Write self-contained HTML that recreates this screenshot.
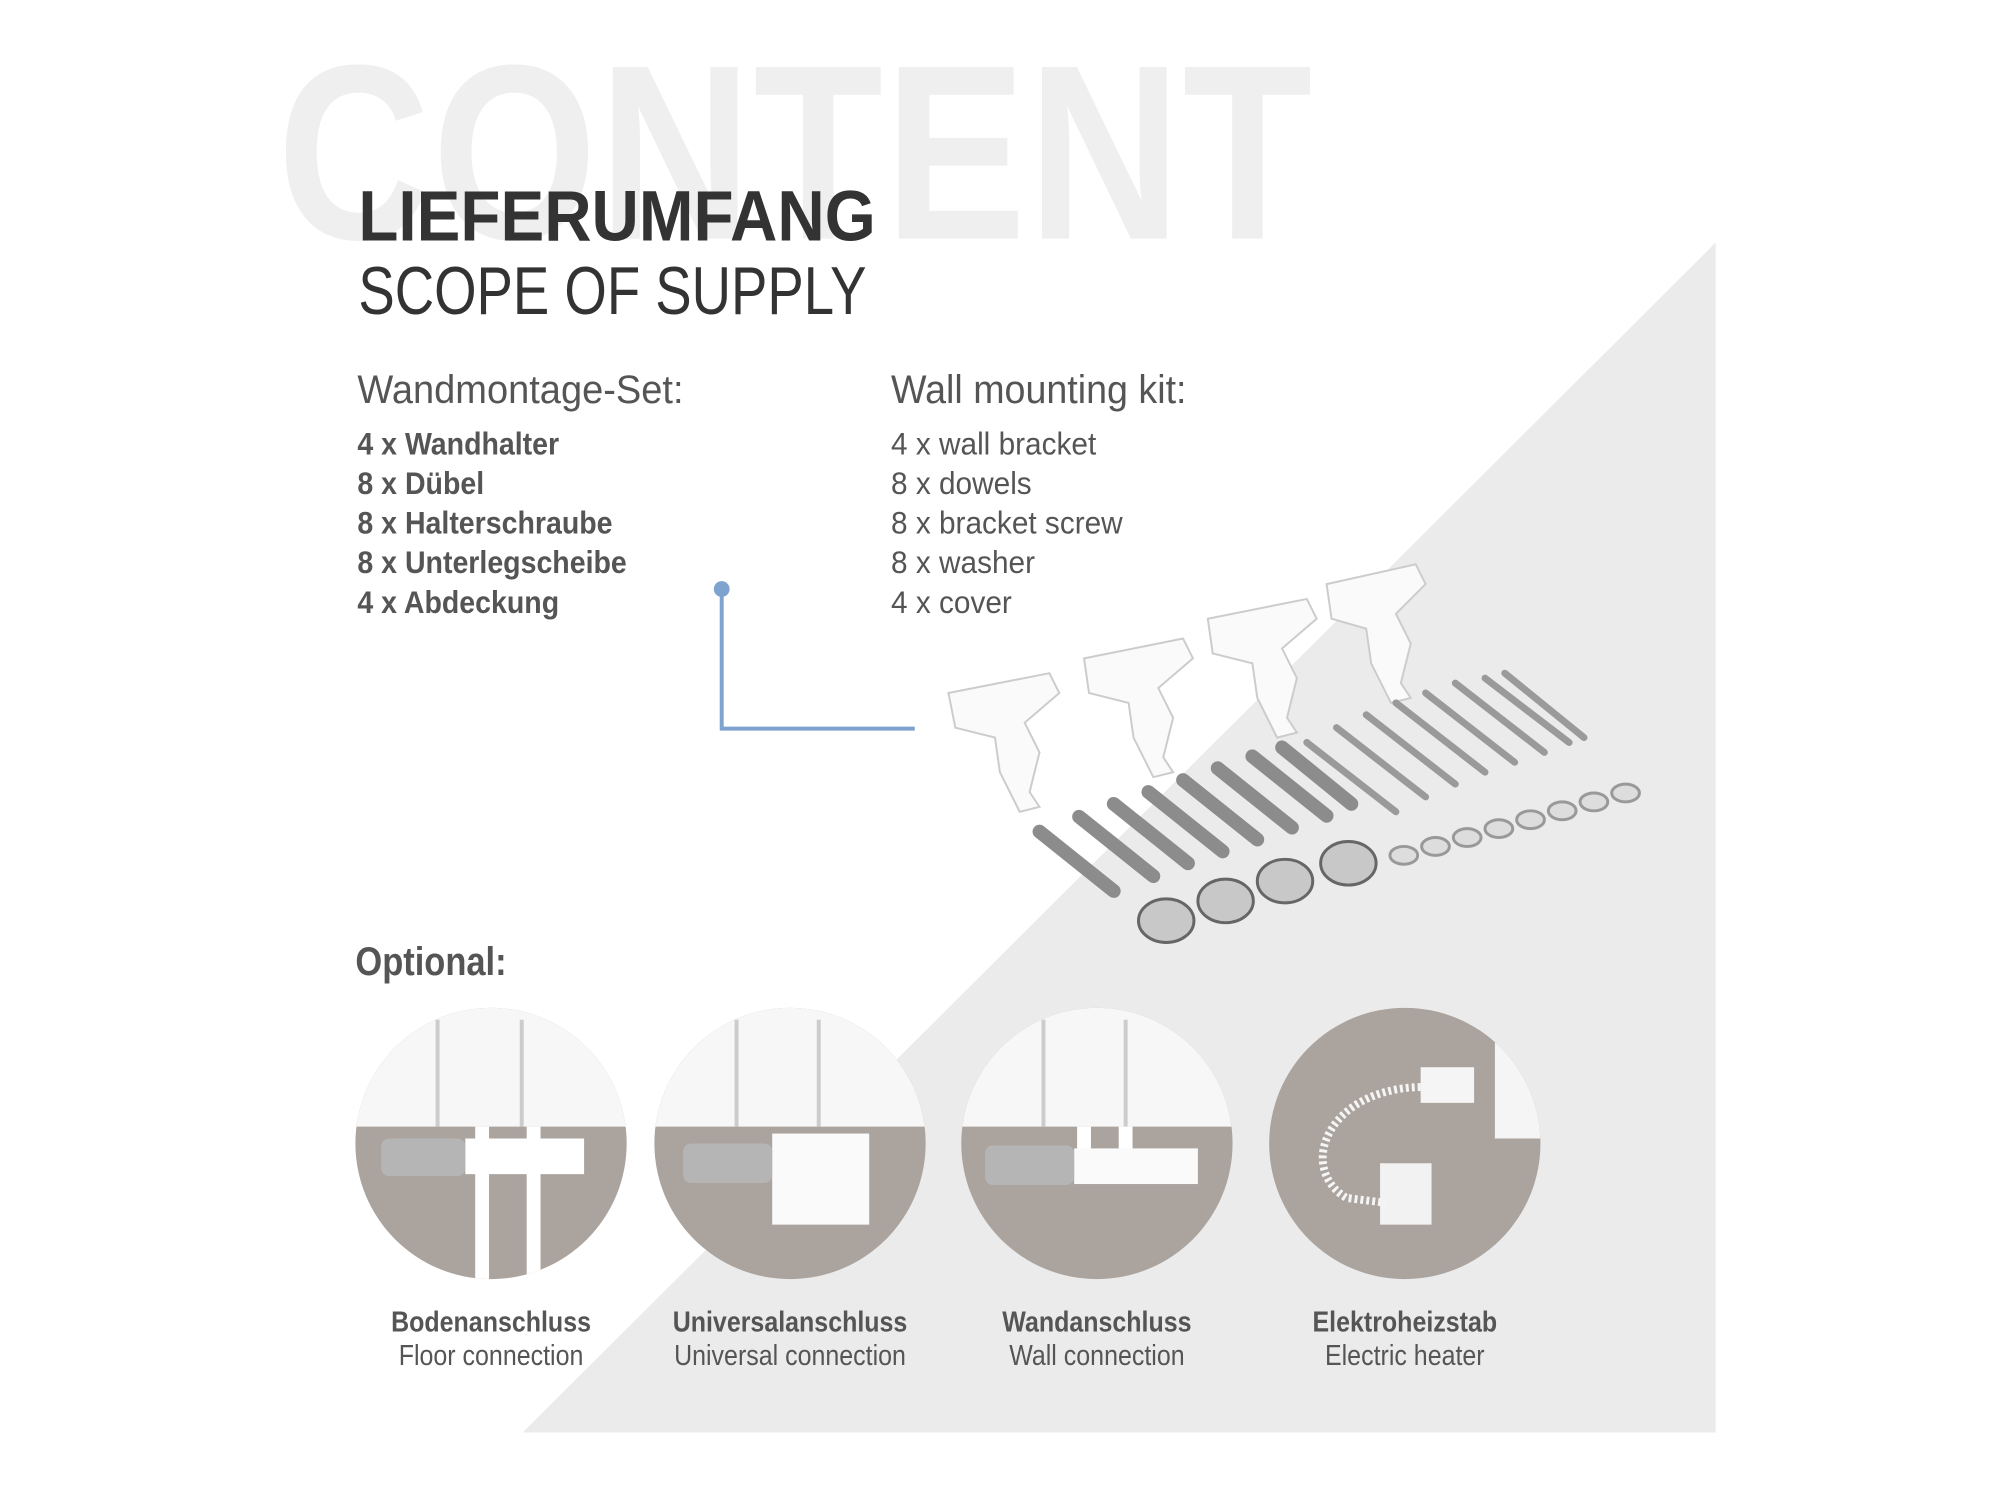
<!DOCTYPE html>
<html><head><meta charset="utf-8"><style>
html,body{margin:0;padding:0;background:#fff}
#o{position:relative;width:2000px;height:1500px;overflow:hidden;background:#fff}
#c{position:absolute;left:0;top:0;width:2000px;height:1500px;transform:scale(0.99);transform-origin:0 0;font-family:"Liberation Sans Narrow","Liberation Sans",sans-serif}
.t{position:absolute;white-space:nowrap;transform-origin:0 0}
.lb{position:absolute;width:300px;text-align:center;transform:scaleX(0.87);transform-origin:50% 0}
</style></head><body><div id="o"><div id="c">
<svg width="2000" height="1500" style="position:absolute;left:0;top:0">
<polygon points="1733,245 1733,1447 528,1447" fill="#ebebeb"/>
</svg>
<div class="t" style="left:280px;top:10px;font-size:252px;font-weight:bold;color:#efefef;transform:scaleX(0.85);letter-spacing:2px">CONTENT</div>
<div class="t" style="left:362px;top:178px;font-size:72px;font-weight:bold;color:#333;transform:scaleX(0.92)">LIEFERUMFANG</div>
<div class="t" style="left:362px;top:255px;font-size:68px;color:#333;transform:scaleX(0.81)">SCOPE OF SUPPLY</div>
<div class="t" style="left:361px;top:372px;font-size:40px;color:#555;transform:scaleX(0.96)">Wandmontage-Set:</div>
<div class="t" style="left:900px;top:372px;font-size:40px;color:#555;transform:scaleX(0.95)">Wall mounting kit:</div>
<div class="t" style="left:361px;top:428px;font-size:32px;line-height:40px;color:#555;font-weight:bold;transform:scaleX(0.90)">4 x Wandhalter<br>8 x Dübel<br>8 x Halterschraube<br>8 x Unterlegscheibe<br>4 x Abdeckung</div>
<div class="t" style="left:900px;top:428px;font-size:32px;line-height:40px;color:#555;transform:scaleX(0.94)">4 x wall bracket<br>8 x dowels<br>8 x bracket screw<br>8 x washer<br>4 x cover</div>
<svg width="2000" height="1500" style="position:absolute;left:0;top:0">
<circle cx="729" cy="595" r="8" fill="#7ea3cf"/>
<polyline points="729,595 729,736 924,736" fill="none" stroke="#7ea3cf" stroke-width="4"/>
<g fill="#fafafa" stroke="#ccc" stroke-width="2">
<path d="M958,700 L1060,680 L1070,700 L1035,730 L1050,760 L1040,800 L1050,815 L1030,820 L1010,780 L1005,745 L965,735 Z"/>
<path d="M1095,665 L1195,645 L1205,665 L1170,695 L1185,725 L1175,765 L1185,780 L1165,785 L1145,745 L1140,710 L1100,700 Z"/>
<path d="M1220,625 L1320,605 L1330,625 L1295,655 L1310,685 L1300,725 L1310,740 L1290,745 L1270,705 L1265,670 L1225,660 Z"/>
<path d="M1340,590 L1430,570 L1440,590 L1410,620 L1425,650 L1415,690 L1425,705 L1405,710 L1385,670 L1380,635 L1345,625 Z"/>
</g>
<g stroke="#9a9a9a" stroke-width="7" stroke-linecap="round">
<line x1="1320" y1="750" x2="1410" y2="820"/><line x1="1350" y1="735" x2="1440" y2="805"/>
<line x1="1380" y1="722" x2="1470" y2="792"/><line x1="1410" y1="710" x2="1500" y2="780"/>
<line x1="1440" y1="700" x2="1530" y2="770"/><line x1="1470" y1="690" x2="1560" y2="760"/>
<line x1="1500" y1="685" x2="1585" y2="750"/><line x1="1520" y1="680" x2="1600" y2="745"/>
</g>
<g stroke="#8c8c8c" stroke-width="14" stroke-linecap="round">
<line x1="1050" y1="840" x2="1125" y2="900"/><line x1="1090" y1="825" x2="1165" y2="885"/>
<line x1="1125" y1="812" x2="1200" y2="872"/><line x1="1160" y1="800" x2="1235" y2="860"/>
<line x1="1195" y1="788" x2="1270" y2="848"/><line x1="1230" y1="776" x2="1305" y2="836"/>
<line x1="1265" y1="764" x2="1340" y2="824"/><line x1="1295" y1="755" x2="1365" y2="812"/>
</g>
<g fill="#ddd" stroke="#999" stroke-width="3">
<ellipse cx="1418" cy="864" rx="14" ry="9"/><ellipse cx="1450" cy="855" rx="14" ry="9"/><ellipse cx="1482" cy="846" rx="14" ry="9"/><ellipse cx="1514" cy="837" rx="14" ry="9"/><ellipse cx="1546" cy="828" rx="14" ry="9"/><ellipse cx="1578" cy="819" rx="14" ry="9"/><ellipse cx="1610" cy="810" rx="14" ry="9"/><ellipse cx="1642" cy="801" rx="14" ry="9"/>
</g>
<g fill="#c8c8c8" stroke="#666" stroke-width="3">
<ellipse cx="1178" cy="930" rx="28" ry="22"/><ellipse cx="1238" cy="910" rx="28" ry="22"/><ellipse cx="1298" cy="890" rx="28" ry="22"/><ellipse cx="1362" cy="872" rx="28" ry="22"/>
</g>
</svg>
<div class="t" style="left:359px;top:950px;font-size:40px;color:#555;font-weight:bold;transform:scaleX(0.87)">Optional:</div>
<svg width="2000" height="1500" style="position:absolute;left:0;top:0">
<defs>
<clipPath id="k1"><circle cx="496" cy="1155" r="137"/></clipPath>
<clipPath id="k2"><circle cx="798" cy="1155" r="137"/></clipPath>
<clipPath id="k3"><circle cx="1108" cy="1155" r="137"/></clipPath>
<clipPath id="k4"><circle cx="1419" cy="1155" r="137"/></clipPath>
</defs>
<g clip-path="url(#k1)"><rect x="350" y="1010" width="300" height="300" fill="#aaa39e"/><rect x="350" y="1010" width="300" height="128" fill="#f7f7f7"/>
<rect x="440" y="1030" width="4" height="108" fill="#ccc"/><rect x="525" y="1030" width="4" height="108" fill="#ccc"/>
<rect x="480" y="1138" width="14" height="160" fill="#fff"/><rect x="532" y="1138" width="14" height="160" fill="#fff"/>
<rect x="470" y="1150" width="120" height="36" fill="#fff"/><rect x="385" y="1150" width="85" height="38" rx="8" fill="#b5b5b5"/></g>
<g clip-path="url(#k2)"><rect x="650" y="1010" width="300" height="300" fill="#aaa39e"/><rect x="650" y="1010" width="300" height="128" fill="#f7f7f7"/>
<rect x="742" y="1030" width="4" height="108" fill="#ccc"/><rect x="825" y="1030" width="4" height="108" fill="#ccc"/>
<rect x="780" y="1145" width="98" height="92" fill="#fafafa"/><rect x="690" y="1155" width="90" height="40" rx="8" fill="#b5b5b5"/></g>
<g clip-path="url(#k3)"><rect x="960" y="1010" width="300" height="300" fill="#aaa39e"/><rect x="960" y="1010" width="300" height="128" fill="#f7f7f7"/>
<rect x="1052" y="1030" width="4" height="108" fill="#ccc"/><rect x="1135" y="1030" width="4" height="108" fill="#ccc"/>
<rect x="1088" y="1138" width="14" height="40" fill="#fff"/><rect x="1130" y="1138" width="14" height="40" fill="#fff"/>
<rect x="1085" y="1160" width="125" height="36" fill="#fafafa"/><rect x="995" y="1157" width="90" height="40" rx="8" fill="#b5b5b5"/></g>
<g clip-path="url(#k4)"><rect x="1270" y="1010" width="300" height="300" fill="#aaa39e"/><rect x="1510" y="1030" width="60" height="120" fill="#f5f5f5"/>
<rect x="1435" y="1078" width="54" height="36" fill="#f5f5f5"/><rect x="1394" y="1175" width="52" height="62" fill="#f2f2f2"/>
<path d="M1435,1098 C1340,1100 1310,1180 1360,1210 L1400,1215" fill="none" stroke="#f5f5f5" stroke-width="8" stroke-dasharray="3 3"/></g>
</svg>
<div class="t" style="left:0;top:1319px;width:2000px;font-size:29px;line-height:34px;color:#555">
<div class="lb" style="left:346px"><b>Bodenanschluss</b><br>Floor connection</div>
<div class="lb" style="left:648px"><b>Universalanschluss</b><br>Universal connection</div>
<div class="lb" style="left:958px"><b>Wandanschluss</b><br>Wall connection</div>
<div class="lb" style="left:1269px"><b>Elektroheizstab</b><br>Electric heater</div>
</div>
</div></div></body></html>
